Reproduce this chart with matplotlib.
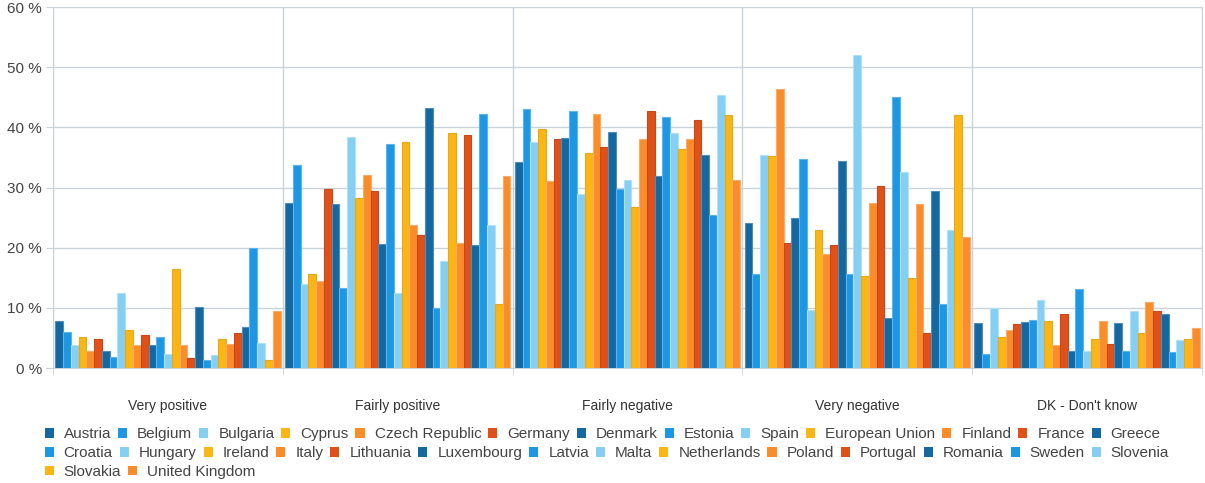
import numpy as np
import matplotlib.pyplot as plt
from matplotlib.patches import Patch

plt.rcParams['font.family'] = ['Liberation Sans', 'DejaVu Sans']

# data
categories = ['Very positive', 'Fairly positive', 'Fairly negative', 'Very negative', "DK - Don't know"]
countries = ['Austria', 'Belgium', 'Bulgaria', 'Cyprus', 'Czech Republic', 'Germany', 'Denmark',
             'Estonia', 'Spain', 'European Union', 'Finland', 'France', 'Greece', 'Croatia',
             'Hungary', 'Ireland', 'Italy', 'Lithuania', 'Luxembourg', 'Latvia', 'Malta',
             'Netherlands', 'Poland', 'Portugal', 'Romania', 'Sweden', 'Slovenia', 'Slovakia',
             'United Kingdom']
very_positive = [7.9, 6.0, 3.8, 5.1, 2.8, 4.9, 2.9, 1.9, 12.5, 6.3, 3.8, 5.5, 3.8, 5.1, 2.3,
                 16.4, 3.9, 1.7, 10.1, 1.3, 2.1, 4.8, 4.0, 5.9, 6.9, 20.0, 4.2, 1.3, 9.4]
fairly_positive = [27.4, 33.8, 13.9, 15.7, 14.4, 29.8, 27.2, 13.3, 38.4, 28.3, 32.1, 29.5, 20.6,
                   37.2, 12.4, 37.5, 23.7, 22.1, 43.2, 9.9, 17.8, 39.0, 20.7, 38.8, 20.4, 42.3,
                   23.7, 10.7, 31.9]
fairly_negative = [34.2, 43.1, 37.5, 39.7, 31.1, 38.0, 38.2, 42.8, 28.9, 35.7, 42.2, 36.8, 39.2,
                   29.8, 31.3, 26.7, 38.0, 42.8, 31.9, 41.8, 39.0, 36.4, 38.0, 41.2, 35.4, 25.4,
                   45.3, 42.0, 31.3]
very_negative = [24.1, 15.7, 35.4, 35.3, 46.4, 20.7, 25.0, 34.8, 9.7, 22.9, 18.9, 20.4, 34.4,
                 15.6, 52.0, 15.3, 27.5, 30.2, 8.3, 45.0, 32.5, 14.9, 27.3, 5.8, 29.4, 10.7,
                 22.9, 42.0, 21.7]
dont_know = [7.5, 2.4, 10.0, 5.1, 6.3, 7.4, 7.6, 8.0, 11.3, 7.8, 3.9, 8.9, 2.9, 13.1, 2.9, 4.9,
             7.9, 4.0, 7.5, 2.9, 9.4, 5.9, 10.9, 9.5, 8.9, 2.6, 4.7, 4.8, 6.6]

values = np.array([very_positive, fairly_positive, fairly_negative, very_negative, dont_know]).T

palette = ['#15679f', '#1d97e4', '#85cff2', '#fbb616', '#fb8c2a', '#df5118']
edges = ['#4f8dbb', '#5bb4ec', '#b3e0f6', '#e8a818', '#f7ad6a', '#c9481a']

fig = plt.figure(figsize=(12.05, 4.83), dpi=100)
ax = fig.add_axes([0.044, 0.238, 0.9535, 0.7475])

n = len(countries)
group_w = 0.98
w = group_w / n
x = np.arange(len(categories))
for i, name in enumerate(countries):
    pos = x - group_w / 2 + w * (i + 0.5)
    ax.bar(pos, values[i], width=w, color=palette[i % 6], edgecolor=edges[i % 6],
           linewidth=0.8, label=name, zorder=3)

ax.set_xlim(-0.5, len(categories) - 0.5)
ax.set_ylim(0, 60)
ax.set_yticks(np.arange(0, 61, 10))
ax.set_yticklabels([f'{v} %' for v in range(0, 61, 10)])
ax.set_xticks(x)
ax.set_xticklabels(categories)
ax.set_xticks(np.arange(len(categories) + 1) - 0.5, minor=True)

grid_c = '#c9d3dc'
ax.grid(axis='y', color=grid_c, linewidth=1, zorder=0)
ax.grid(axis='x', which='minor', color=grid_c, linewidth=1, zorder=0)
for s in ax.spines.values():
    s.set_color(grid_c)
ax.spines['top'].set_visible(False)
ax.tick_params(axis='x', which='major', length=0, pad=22, labelsize=10, labelcolor='#333333')
ax.tick_params(axis='x', which='minor', length=5, color=grid_c)
ax.tick_params(axis='y', length=5, color=grid_c, labelsize=11, labelcolor='#444444', pad=3)

# legend in three rows, flowing left to right
handles = [Patch(facecolor=palette[i % 6], edgecolor='none', label=c) for i, c in enumerate(countries)]
rows = [(0, 13), (13, 27), (27, 29)]
row_y = [0.101, 0.062, 0.023]
for (a, b), yy in zip(rows, row_y):
    leg = fig.legend(handles=handles[a:b], loc='center left', bbox_to_anchor=(0.037, yy),
                     ncol=b - a, frameon=False, fontsize=11, handlelength=0.6, handleheight=0.6,
                     handletextpad=0.65, columnspacing=0.45, borderpad=0, borderaxespad=0)
    for t in leg.get_texts():
        t.set_color('#444444')

fig.savefig('out.png', dpi=100)
